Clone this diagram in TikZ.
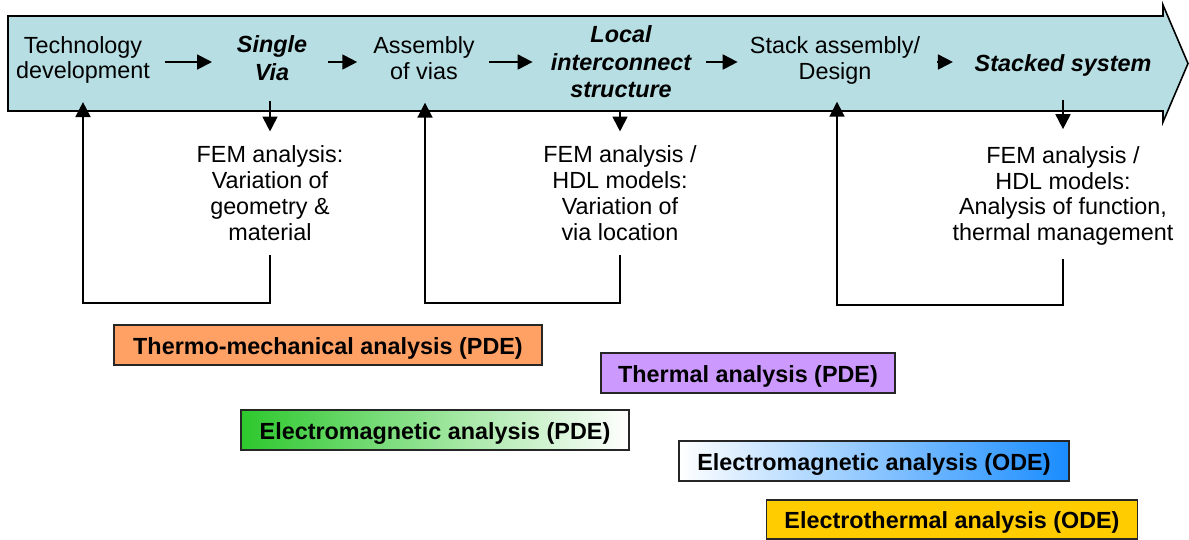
\documentclass[tikz,border=0pt]{standalone}
\usepackage{fontspec}
\setmainfont{Liberation Sans}
\usetikzlibrary{arrows.meta}
\definecolor{bodyblue}{RGB}{183,222,227}
\definecolor{orangebox}{RGB}{255,160,100}
\definecolor{purplebox}{RGB}{204,153,255}
\definecolor{greenbox}{RGB}{45,200,45}
\definecolor{bluebox}{RGB}{25,140,255}
\definecolor{goldbox}{RGB}{255,204,0}
\begin{document}
\begin{tikzpicture}[x=0.02cm,y=-0.02cm,
  txt/.style={font=\fontsize{13.3}{14.7}\selectfont, align=center, inner sep=0pt},
  bi/.style={font=\fontsize{13.3}{15.7}\selectfont\bfseries\itshape, align=center, inner sep=0pt},
  flow/.style={line width=1.1pt, -{Triangle[length=8.5pt,width=8.5pt]}},
  fb/.style={line width=1.1pt, -{Triangle[length=8.5pt,width=8.5pt]}},
  abox/.style={draw=black!85, line width=1pt, inner sep=0pt,
    font=\fontsize{13.3}{15}\selectfont\bfseries, minimum height=0.8cm,
    text height=1.15em, text depth=0.12em}]
\useasboundingbox (0,0) rectangle (1189,539);
% big arrow
\draw[fill=bodyblue, line width=0.9pt, line join=miter]
  (8,16) -- (1163,16) -- (1163,5) -- (1188,63.5) -- (1163,122) -- (1163,111) -- (8,111) -- cycle;
% top row
\node[txt] (t1) at (83,60) {Technology\\development};
\node[bi]  (t2) at (272,58) {Single\\Via};
\node[txt] (t3) at (424,58) {Assembly\\of vias};
\node[bi]  (t4) at (621,62) {Local\\interconnect\\structure};
\node[txt] (t5) at (835,60.5) {Stack assembly/\\Design};
\node[bi]  (t6) at (1063,65.5) {Stacked system};
\coordinate (row) at (0,62);
\draw[flow, shorten <=8.2pt, shorten >=14pt] (t1.east |- row) -- (t2.west |- row);
\draw[flow, shorten <=11.7pt, shorten >=9pt] (t2.east |- row) -- (t3.west |- row);
\draw[flow, shorten <=8pt, shorten >=10.2pt] (t3.east |- row) -- (t4.west |- row);
\draw[flow, shorten <=8.5pt, shorten >=6.8pt] (t4.east |- row) -- (t5.west |- row);
\draw[flow, shorten <=9.6pt, shorten >=12.2pt] (t5.east |- row) -- (t6.west |- row);
% analysis texts
\node[txt] (f1) at (270,193) {FEM analysis:\\Variation of\\geometry \&\\material};
\node[txt] (f2) at (620,193) {FEM analysis /\\HDL models:\\Variation of\\via location};
\node[txt] (f3) at (1063,196) {FEM analysis /\\HDL models:\\Analysis of function,\\thermal management};
% down arrows
\draw[flow, shorten <=11.3pt, shorten >=7.9pt] (t2.south -| f1.north) -- (f1.north);
\draw[flow, shorten <=6.8pt, shorten >=7.9pt] (t4.south -| f2.north) -- (f2.north);
\draw[flow, shorten <=13.3pt, shorten >=9.6pt] (t6.south -| f3.north) -- (f3.north);
% feedback loops
\coordinate (c1) at (83,303);
\coordinate (c2) at (425,303);
\coordinate (c3) at (837,305);
\draw[fb, shorten <=7.9pt, shorten >=10.2pt] (f1.south) -- (f1.south |- c1) -- (c1) -- (c1 |- t1.south);
\draw[fb, shorten <=7.9pt, shorten >=13pt] (f2.south) -- (f2.south |- c2) -- (c2) -- (c2 |- t3.south);
\draw[fb, shorten <=7.4pt, shorten >=9.7pt] (f3.south) -- (f3.south |- c3) -- (c3) -- (c3 |- t5.south);
% analysis boxes
\node[abox, fill=orangebox, minimum width=8.56cm] (b1) at (328,345) {Thermo-mechanical analysis (PDE)};
\node[abox, fill=purplebox, minimum width=5.88cm] (b2) at (748,373) {Thermal analysis (PDE)};
\node[abox, left color=greenbox, right color=white, minimum width=7.76cm] (b3) at (435,430) {Electromagnetic analysis (PDE)};
\node[abox, left color=white, right color=bluebox, minimum width=7.8cm] (b4) at (874,461) {Electromagnetic analysis (ODE)};
\node[abox, fill=goldbox, minimum width=7.42cm, minimum height=0.78cm] (b5) at (952,519.5) {Electrothermal analysis (ODE)};
\end{tikzpicture}
\end{document}
